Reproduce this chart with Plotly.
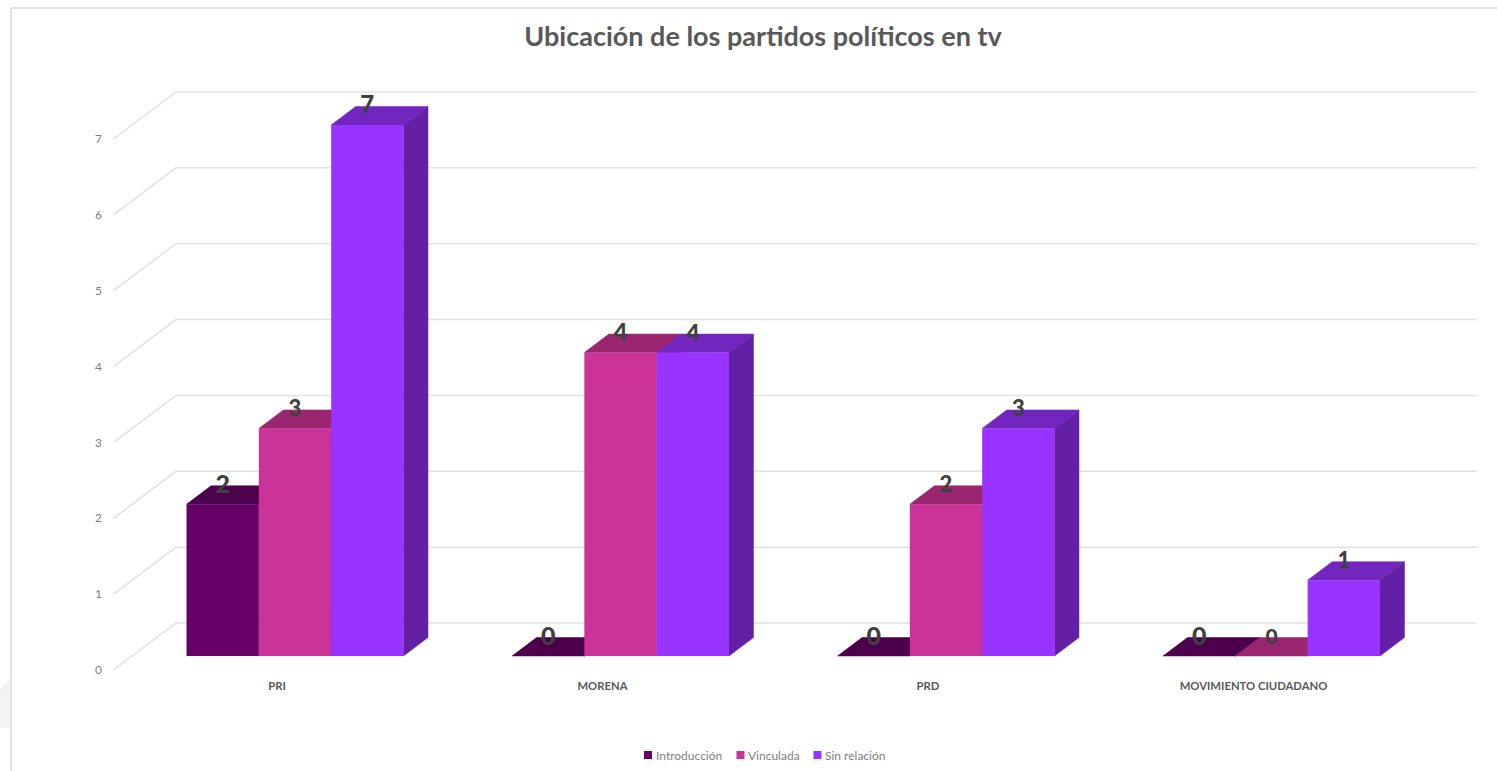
import plotly.graph_objects as go

# ---- data ----
categories = ["PRI", "MORENA", "PRD", "MOVIMIENTO CIUDADANO"]
series_names = ["Introducción", "Vinculada", "Sin relación"]
introduccion = [2, 0, 0, 0]
vinculada = [3, 4, 2, 0]
sin_relacion = [7, 4, 3, 1]
y_ticks = [0, 1, 2, 3, 4, 5, 6, 7]
title_text = "Ubicación de los partidos políticos en tv"

# ---- style ----
front = ["#660066", "#cc3399", "#9933ff"]
top_c = ["#4c004c", "#99266f", "#7326bf"]
side_c = ["#420042", "#852163", "#6320a4"]
label_sizes = [[25, 25, 25, 25], [22, 24, 22, 21], [24, 23, 22, 22]]
key_marker_px = [648, 740.5, 817.5]
key_text_px = [655, 747, 824]

W, H = 1497, 771
L, R, T, B = 105, 1490, 60, 678
XU, YU = 325.5, 75.86          # pixels per category / per value
X0, Y0 = 295.0, 656.0          # pixel of category 0 centre / value 0
xr = [(L - X0) / XU, (R - X0) / XU]
yr = [(Y0 - B) / YU, (Y0 - T) / YU]
BW = 72.33 / XU
DX, DY = 24.5 / XU, 18.5 / YU


def px(x):
    return (x - L) / (R - L)


def py(y):
    return (B - y) / (B - T)


fig = go.Figure()

# back wall gridlines
wall_front_x = (113.5 - X0) / XU
wall_back_x = (176 - X0) / XU
wall_right_x = (1477 - X0) / XU
wall_front_dy = -14 / YU
wall_back_dy = 33 / YU
for k in y_ticks:
    fig.add_trace(go.Scatter(
        x=[wall_front_x, wall_back_x, wall_right_x],
        y=[k + wall_front_dy, k + wall_back_dy, k + wall_back_dy],
        mode="lines", line=dict(color="#e2e2e2", width=1.5),
        hoverinfo="skip", showlegend=False))

all_vals = [introduccion, vinculada, sin_relacion]

# 3-D side and top faces computed from the values
for s, vals in enumerate(all_vals):
    sx, sy, tx, ty = [], [], [], []
    for i, v in enumerate(vals):
        x0 = i + (s - 1.5) * BW
        x1 = x0 + BW
        sx += [x1, x1 + DX, x1 + DX, x1, x1, None]
        sy += [0, DY, v + DY, v, 0, None]
        tx += [x0, x0 + DX, x1 + DX, x1, x0, None]
        ty += [v, v + DY, v + DY, v, v, None]
    for xs, ys, col in ((sx, sy, side_c[s]), (tx, ty, top_c[s])):
        fig.add_trace(go.Scatter(
            x=xs, y=ys, mode="lines", fill="toself", fillcolor=col,
            line=dict(color=col, width=0.5), hoverinfo="skip", showlegend=False))

# front faces on an overlay subplot, so they sit above the depth faces
for s, vals in enumerate(all_vals):
    fig.add_trace(go.Bar(
        x=list(range(len(categories))), y=vals, name=series_names[s],
        customdata=categories, width=BW, offset=(s - 1.5) * BW,
        marker=dict(color=front[s], line=dict(width=0)),
        xaxis="x2", yaxis="y2", showlegend=False,
        hovertemplate="%{customdata}<br>" + series_names[s] + ": %{y}<extra></extra>"))

# data labels
label_dy = 17.5 / YU
for s, vals in enumerate(all_vals):
    fig.add_trace(go.Scatter(
        x=[i + (s - 1) * BW for i in range(len(vals))],
        y=[v + label_dy for v in vals],
        text=[str(v) for v in vals], mode="text", textposition="middle center",
        textfont=dict(family="Lato", size=label_sizes[s], color="#404040", weight=900),
        xaxis="x2", yaxis="y2", hoverinfo="skip", showlegend=False))

# compact colour key below the plot (tighter than the built-in legend allows)
key_shapes, key_annotations = [], []
for s, name in enumerate(series_names):
    m = key_marker_px[s]
    key_shapes.append(dict(
        type="rect", xref="paper", yref="paper",
        x0=px(m - 4), x1=px(m + 4), y0=py(759), y1=py(751),
        fillcolor=front[s], line=dict(width=0), layer="above"))
    key_annotations.append(dict(
        text=name, xref="paper", yref="paper", x=px(key_text_px[s]), y=py(755),
        xanchor="left", yanchor="middle", showarrow=False, xshift=-1,
        font=dict(family="Lato", size=12, color="#7f7f7f")))

fig.update_layout(
    width=W, height=H, autosize=False, showlegend=False,
    margin=dict(l=L, r=W - R, t=T, b=H - B, pad=0),
    paper_bgcolor="white", plot_bgcolor="rgba(0,0,0,0)",
    barmode="overlay",
    title=dict(
        text=title_text, xref="container", yref="container",
        x=763 / W, xanchor="center", y=1 - 37 / H, yanchor="middle",
        font=dict(family="Lato", size=27, color="#595959", weight="bold")),
    xaxis=dict(
        range=xr, showgrid=False, zeroline=False, showline=False, ticks="",
        tickmode="array", tickvals=[i - 18 / XU for i in range(len(categories))],
        ticktext=categories,
        tickfont=dict(family="Lato", size=11.3, color="#595959", weight="bold")),
    yaxis=dict(
        range=yr, showgrid=False, zeroline=False, showline=False, ticks="",
        tickmode="array", tickvals=[k + wall_front_dy for k in y_ticks],
        ticktext=[str(k) for k in y_ticks], ticklabelstandoff=2,
        tickfont=dict(family="Lato", size=12, color="#808080")),
    xaxis2=dict(range=xr, overlaying="x", visible=False),
    yaxis2=dict(range=yr, overlaying="y", visible=False),
    annotations=key_annotations,
    shapes=[
        dict(type="line", xref="paper", yref="paper", x0=px(11), x1=px(11), y0=py(8), y1=py(771),
             line=dict(color="#d9d9d9", width=1.5), layer="below"),
        dict(type="line", xref="paper", yref="paper", x0=px(11), x1=px(1497), y0=py(8), y1=py(8),
             line=dict(color="#d9d9d9", width=1.5), layer="below"),
        dict(type="path", xref="paper", yref="paper",
             path=f"M {px(0)} {py(690)} L {px(10)} {py(678)} L {px(10)} {py(729)} L {px(0)} {py(727)} Z",
             fillcolor="#f3f3f3", line=dict(width=0), layer="below"),
    ] + key_shapes,
)

fig.write_html("out.html", config={"displayModeBar": False},
               post_script="document.body.style.margin='0';")
